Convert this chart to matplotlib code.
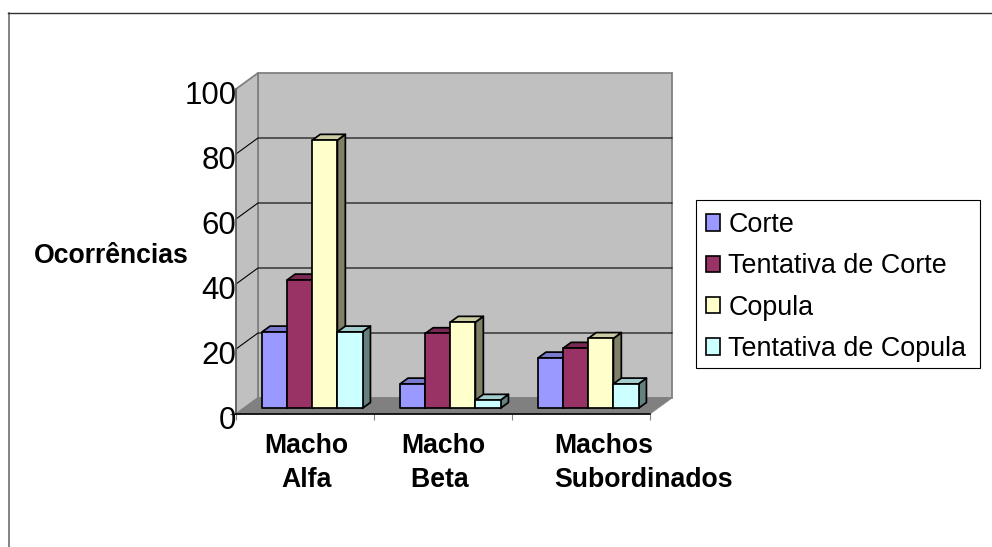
import matplotlib
matplotlib.use('Agg')
import matplotlib.pyplot as plt
from matplotlib.lines import Line2D
from matplotlib.patches import Patch, Polygon, Rectangle
from matplotlib.transforms import ScaledTranslation

plt.rcParams['font.family'] = ['Liberation Sans', 'DejaVu Sans']

categories = ['Macho\nAlfa', 'Macho\nBeta ', 'Machos\nSubordinados']
series_names = ['Corte', 'Tentativa de Corte', 'Copula', 'Tentativa de Copula']
corte = [23.5, 7.5, 15.5]
tentativa_corte = [39.5, 23, 18.5]
copula = [82.5, 26.5, 21.5]
tentativa_copula = [23.5, 2.5, 7.5]
series = [corte, tentativa_corte, copula, tentativa_copula]
colors = ['#9999FF', '#993366', '#FFFFCC', '#CCFFFF']
y_ticks = [0, 20, 40, 60, 80, 100]

W, H = 992, 547
DPI = 100

# depth of the fake 3D box, in axis units
wall_dx = 22 / 138
wall_dy = 16 / 3.25
gap = 1.5


def shade(color, k):
    r, g, b = matplotlib.colors.to_rgb(color)
    return (r * k, g * k, b * k)


def draw_bar(ax, x0, width, value, color):
    bx = x0 + wall_dx / 3
    by = wall_dy * 0.36
    dx = wall_dx * 0.36
    dy = wall_dy * 0.36
    top = by + value
    edge = dict(edgecolor='black', linewidth=1.25, joinstyle='round', clip_on=False, zorder=4)
    ax.add_patch(Polygon([(bx + width, by), (bx + width + dx, by + dy),
                          (bx + width + dx, top + dy), (bx + width, top)],
                         facecolor=shade(color, 0.5), **edge))
    ax.add_patch(Polygon([(bx, top), (bx + dx, top + dy),
                          (bx + width + dx, top + dy), (bx + width, top)],
                         facecolor=shade(color, 0.8), **edge))
    ax.add_patch(Polygon([(bx, by), (bx + width, by), (bx + width, top), (bx, top)],
                         facecolor=color, **edge))


fig = plt.figure(figsize=(W / DPI, H / DPI), dpi=DPI)
ax = fig.add_axes([236 / W, 1 - 414 / H, 414 / W, 325 / H])
ax.set_xlim(0, 3)
ax.set_ylim(0, 100)
for name in ['top', 'right']:
    ax.spines[name].set_visible(False)
ax.spines['left'].set_color('#606060')
ax.spines['left'].set_linewidth(1.2)
ax.spines['bottom'].set_color('black')
ax.spines['bottom'].set_linewidth(1.2)
ax.patch.set_visible(False)

# walls and floor
wall = dict(edgecolor='#808080', linewidth=1.3, clip_on=False, zorder=1)
ax.add_patch(Polygon([(wall_dx, wall_dy), (3 + wall_dx, wall_dy),
                      (3 + wall_dx, 100 + wall_dy), (wall_dx, 100 + wall_dy)],
                     facecolor='#C0C0C0', **wall))
ax.add_patch(Polygon([(0, 0), (wall_dx, wall_dy), (wall_dx, 100 + wall_dy), (0, 100)],
                     facecolor='#C0C0C0', **wall))
ax.add_patch(Polygon([(0, 0), (3, 0), (3 + wall_dx, wall_dy), (wall_dx, wall_dy)],
                     facecolor='#808080', edgecolor='#808080', linewidth=0.5,
                     clip_on=False, zorder=1))

# gridlines, on the back wall and the left wall
for v in y_ticks[1:-1]:
    ax.plot([0, wall_dx, 3 + wall_dx], [v, v + wall_dy, v + wall_dy], color='black',
            linewidth=0.8, clip_on=False, zorder=2)

bar_w = 1 / (len(series) + gap)
for c in range(len(categories)):
    for s, values in enumerate(series):
        x0 = c + gap / 2 * bar_w + s * bar_w
        draw_bar(ax, x0, bar_w, values[c], colors[s])

# axes ticks and labels
ax.set_yticks(y_ticks)
ax.tick_params(axis='y', length=4.3, width=0.8, color='#404040', pad=-4.6, labelsize=22.5)
for i, t in enumerate(ax.yaxis.get_major_ticks()):
    if i > 0:
        t.tick1line.set_visible(False)
    t.label1.set_transform(t.label1.get_transform()
                           + ScaledTranslation(0, -3.5 / DPI, fig.dpi_scale_trans))

ax.set_xticks([0, 1, 2, 3])
ax.set_xticklabels([])
ax.set_xticks([0.5, 1.5, 2.5], minor=True)
ax.set_xticklabels(categories, minor=True, fontsize=19.2, fontweight='bold', linespacing=1.42)
ax.tick_params(axis='x', which='major', length=4.3, width=0.8, color='#808080')
ax.tick_params(axis='x', which='minor', length=0, pad=13.5)
shifts = [1.5, 0.5, 63]
for t, shift in zip(ax.xaxis.get_minor_ticks(), shifts):
    t.label1.set_transform(t.label1.get_transform()
                           + ScaledTranslation(shift / DPI, 0, fig.dpi_scale_trans))
ax.xaxis.get_minor_ticks()[2].label1.set_multialignment('left')

ax.set_ylabel('Ocorrências', rotation=0, fontsize=19.2, fontweight='bold', ha='center', va='center')
ax.yaxis.set_label_coords(-0.3007, 0.485)

# legend box drawn on its own so its size can be set exactly
fig.add_artist(Rectangle((695.7 / W, 1 - 368 / H), 284.3 / W, 168 / H, facecolor='white',
                         edgecolor='black', linewidth=0.8, zorder=3))
handles = [Patch(facecolor=c, edgecolor='black', linewidth=1.2) for c in colors]
leg = fig.legend(handles, series_names, loc='upper left',
                 bbox_to_anchor=(705.5 / W, 1 - 212 / H), borderaxespad=0, borderpad=0,
                 fontsize=19.4, frameon=False,
                 handlelength=0.55, handleheight=0.55, handletextpad=0.29,
                 labelspacing=0.57)
leg.set_zorder(5)

# outer chart border, only the top and left edges show in the picture
fig.add_artist(Line2D([8.5 / W, 8.5 / W], [0, 1 - 12.5 / H], color='#606060', linewidth=1.1))
fig.add_artist(Line2D([8 / W, 1], [1 - 12.5 / H, 1 - 12.5 / H], color='#303030', linewidth=1.0))

fig.savefig('out.png', dpi=DPI)
